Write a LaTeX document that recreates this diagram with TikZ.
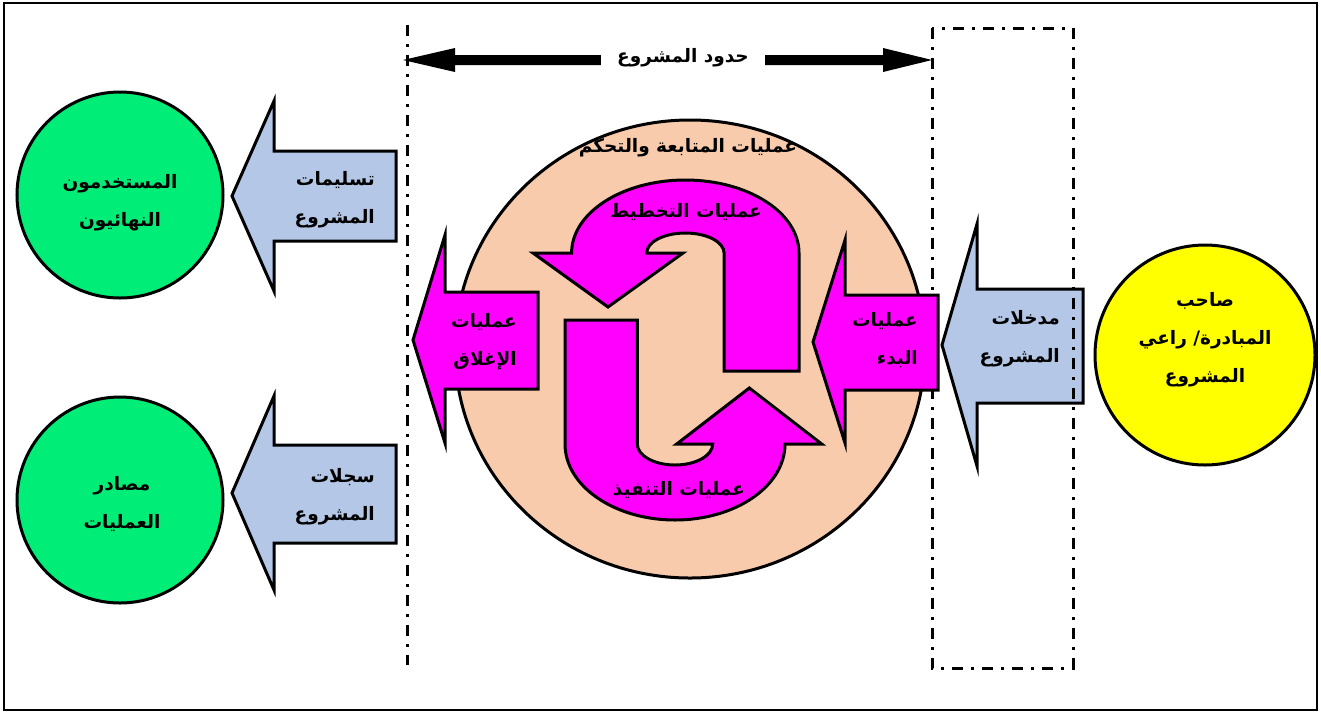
\documentclass[tikz,border=0pt]{standalone}
\usepackage{fontspec}
\newfontfamily\arabicfont[Script=Arabic,BoldFont={DejaVu Sans Bold}]{DejaVu Sans}
\TeXXeTstate=1
\newcommand\artxt[1]{\beginR #1\endR}
\definecolor{peach}{HTML}{F8CBAD}
\definecolor{lavender}{HTML}{B4C7E7}
\definecolor{mag}{HTML}{FF00FF}
\definecolor{grn}{HTML}{00EE77}
\definecolor{yel}{HTML}{FFFF00}
\begin{document}
\begin{tikzpicture}[x=1pt,y=-1pt,
  shapeline/.style={draw=black,line width=3pt,line join=miter},
  bluearrow/.style={shapeline,fill=lavender},
  magarrow/.style={shapeline,fill=mag},
  boundary/.style={draw=black,line width=3pt,dash pattern=on 11pt off 8pt on 3pt off 8pt},
  lbl/.style={font=\arabicfont\bfseries\fontsize{18.5}{38}\selectfont,inner sep=0pt,align=right},
  clbl/.style={font=\arabicfont\bfseries\fontsize{18.5}{38}\selectfont,inner sep=0pt,align=center}]
\useasboundingbox (0,0) rectangle (1321,713);
% outer frame
\draw[line width=2.5pt] (4,3) rectangle (1317,710);

% stakeholders
\draw[shapeline,fill=grn] (120,195) circle[radius=103];
\draw[shapeline,fill=grn] (120,500) circle[radius=103];
\draw[shapeline,fill=yel] (1205,355) circle[radius=110];

% project deliverables / records / inputs
\draw[bluearrow] (232,196) -- (274,101) -- (274,151) -- (396,151) -- (396,241) -- (274,241) -- (274,291) -- cycle;
\draw[bluearrow] (232,493) -- (274,396) -- (274,445) -- (396,445) -- (396,543) -- (274,543) -- (274,590) -- cycle;
\draw[bluearrow] (942,345) -- (977,224) -- (977,289) -- (1083,289) -- (1083,403) -- (977,403) -- (977,466) -- cycle;

% project boundary
\draw[boundary] (407,25) -- (407,665);
\draw[boundary] (932,28) rectangle (1073,668);

% monitoring and controlling
\draw[shapeline,fill=peach] (690,349) ellipse[x radius=235,y radius=229];

% initiating / closing
\draw[magarrow] (813,342) -- (845,240) -- (845,295) -- (938,295) -- (938,390) -- (845,390) -- (845,443) -- cycle;
\draw[magarrow] (413,340) -- (445,235) -- (445,292) -- (538,292) -- (538,389) -- (445,389) -- (445,443) -- cycle;

% planning (upper U-turn)
\draw[magarrow] (799,371) -- (799,253)
  arc[start angle=0,end angle=-180,x radius=113.7,y radius=73]
  -- (533,253) -- (608,307) -- (683,253) -- (646.7,253)
  arc[start angle=180,end angle=360,x radius=38.7,y radius=20]
  -- (724.1,371) -- cycle;
% executing (lower U-turn)
\draw[magarrow] (565,320) -- (565,444)
  arc[start angle=180,end angle=0,x radius=110,y radius=76]
  -- (821.7,444) -- (749.3,388) -- (676.7,444) -- (712.7,444)
  arc[start angle=0,end angle=180,x radius=37.7,y radius=21]
  -- (637.3,320) -- cycle;

% boundary dimension arrow
\coordinate (bl) at (403,60);
\coordinate (br) at (932,60);
\fill[black] (bl) -- (455,48) -- (455,55) -- (883,55) -- (883,48) -- (br)
  -- (883,72) -- (883,65) -- (455,65) -- (455,72) -- cycle;
\node[clbl,fill=white,inner xsep=16pt,inner ysep=4pt] (bnd) at (683,58) {\artxt{حدود المشروع}};

% labels
\node[clbl] (mc) at (688,148) {\artxt{عمليات المتابعة والتحكم}};
\node[clbl] (pl) at (686,212) {\artxt{عمليات التخطيط}};
\node[clbl] (ex) at (679,490) {\artxt{عمليات التنفيذ}};
\node[lbl,anchor=east] (ini) at (918,340) {\artxt{عمليات}\\\artxt{البدء}};
\node[lbl,anchor=east] (clo) at (517,342) {\artxt{عمليات}\\\artxt{الإغلاق}};
\node[lbl,anchor=east] (inp) at (1060,339) {\artxt{مدخلات}\\\artxt{المشروع}};
\node[lbl,anchor=east] (del) at (375,200) {\artxt{تسليمات}\\\artxt{المشروع}};
\node[lbl,anchor=east] (rec) at (375,497) {\artxt{سجلات}\\\artxt{المشروع}};
\node[clbl] (usr) at (120,203) {\artxt{المستخدمون}\\\artxt{النهائيون}};
\node[clbl] (src) at (122,504) {\artxt{مصادر}\\\artxt{العمليات}};
\node[clbl] (spn) at (1205,340) {\artxt{صاحب}\\\artxt{المبادرة/ راعي}\\\artxt{المشروع}};
\end{tikzpicture}
\end{document}
